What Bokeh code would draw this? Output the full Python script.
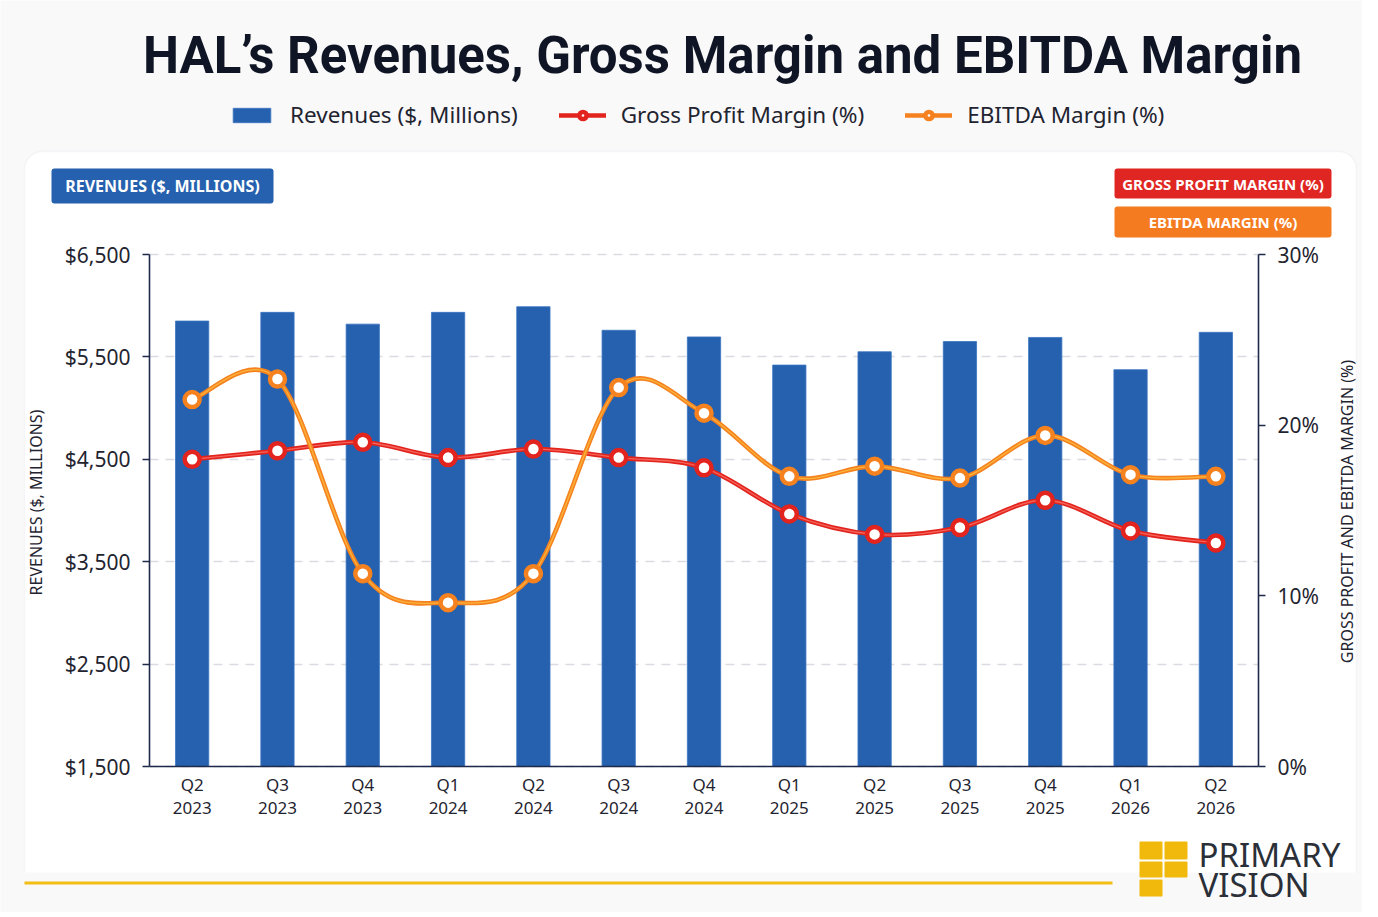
import numpy as np
from bokeh.plotting import figure
from bokeh.models import (Range1d, LinearAxis, FixedTicker, NumeralTickFormatter,
                          PrintfTickFormatter, Label, BoxAnnotation, Legend, LegendItem)
from bokeh.embed import file_html
from bokeh.resources import INLINE

# chart data
quarters = ["Q2\n2023", "Q3\n2023", "Q4\n2023", "Q1\n2024", "Q2\n2024", "Q3\n2024", "Q4\n2024",
            "Q1\n2025", "Q2\n2025", "Q3\n2025", "Q4\n2025", "Q1\n2026", "Q2\n2026"]
revenues = [5850, 5935, 5820, 5935, 5990, 5760, 5695, 5420, 5550, 5650, 5690, 5375, 5740]
gross_margin = [18.0, 18.5, 19.0, 18.1, 18.6, 18.1, 17.5, 14.8, 13.6, 14.0, 15.6, 13.8, 13.1]
ebitda_margin = [21.5, 22.7, 11.3, 9.6, 11.3, 22.2, 20.7, 17.0, 17.6, 16.9, 19.4, 17.1, 17.0]
revenue_ticks = [1500, 2500, 3500, 4500, 5500, 6500]
margin_ticks = [0, 10, 20, 30]

BLUE = "#2561AE"
RED = "#E3231D"
ORANGE = "#F5821F"
NAVY = "#1E2A4A"
TEXT = "#1F2430"
PAGE_BG = "#F9F9FA"
FONT = "Noto Sans"

# canvas size and where the chart area sits on it (pixels from top-left)
W, H = 1362, 912
FL, FR, FT, FB = 149, 1258, 254, 766

xs = list(range(len(quarters)))
x_lo, x_hi = -0.5, len(quarters) - 0.5
rev_lo, rev_hi = revenue_ticks[0], revenue_ticks[-1]
pct_lo, pct_hi = margin_ticks[0], margin_ticks[-1]


def stretch(lo, hi, before, after, span):
    # extend a data range so that [lo, hi] covers `span` pixels with extra pixels on both sides
    k = (hi - lo) / span
    return Range1d(lo - before * k, hi + after * k)


def smooth_segments(vals):
    # catmull-rom curve written as cubic bezier segments
    n = len(vals)
    seg = dict(x0=[], y0=[], x1=[], y1=[], cx0=[], cy0=[], cx1=[], cy1=[])
    for i in range(n - 1):
        a, b = max(i - 1, 0), min(i + 2, n - 1)
        seg["x0"].append(xs[i])
        seg["y0"].append(vals[i])
        seg["x1"].append(xs[i + 1])
        seg["y1"].append(vals[i + 1])
        seg["cx0"].append(xs[i] + (xs[i + 1] - xs[a]) / 6)
        seg["cy0"].append(vals[i] + (vals[i + 1] - vals[a]) / 6)
        seg["cx1"].append(xs[i + 1] - (xs[b] - xs[i]) / 6)
        seg["cy1"].append(vals[i + 1] - (vals[b] - vals[i]) / 6)
    return seg


p = figure(width=W, height=H, output_backend="svg", toolbar_location=None, min_border=0,
           x_range=stretch(x_lo, x_hi, FL, W - FR, FR - FL),
           y_range=stretch(rev_lo, rev_hi, H - FB, FT, FB - FT))
p.extra_y_ranges = {"pct": stretch(pct_lo, pct_hi, H - FB, FT, FB - FT)}
p.outline_line_color = None
p.border_fill_color = PAGE_BG
p.background_fill_color = PAGE_BG


def box(left, right, top, bottom, color, radius=0, line=None, level="annotation"):
    # box given in page pixels
    p.add_layout(BoxAnnotation(left=left, right=right, top=H - top, bottom=H - bottom,
                               left_units="screen", right_units="screen", top_units="screen",
                               bottom_units="screen", fill_color=color, fill_alpha=1,
                               line_color=line, line_width=1.5, border_radius=radius, level=level))


def text(x, y, s, size, color=TEXT, font=FONT, style="normal", align="left", angle=0):
    p.add_layout(Label(x=x, y=H - y, x_units="screen", y_units="screen", text=s,
                       text_font=font, text_font_style=style, text_font_size=size,
                       text_color=color, text_align=align, text_baseline="middle", angle=angle))


# white rounded panel behind the chart
box(24, 1356, 151, H + 60, "#FFFFFF", radius=18, line="#E3E6EA", level="image")
box(0, W, 872, H + 60, PAGE_BG, level="image")

# axes drawn at the edges of the chart area
p.xaxis.fixed_location = rev_lo
p.xaxis.bounds = (x_lo, x_hi)
p.xaxis.ticker = FixedTicker(ticks=xs)
p.xaxis.major_label_overrides = {i: q for i, q in enumerate(quarters)}
p.xaxis.major_tick_line_color = None
p.xaxis.minor_tick_line_color = None
p.xaxis.axis_line_color = NAVY
p.xaxis.axis_line_width = 1.6
p.xaxis.major_label_text_font = FONT
p.xaxis.major_label_text_font_size = "17px"
p.xaxis.major_label_text_color = TEXT
p.xaxis.major_label_text_line_height = 1.0
p.xaxis.major_label_standoff = 0

p.yaxis.fixed_location = x_lo
p.yaxis.bounds = (rev_lo, rev_hi)
p.yaxis.ticker = FixedTicker(ticks=revenue_ticks)
p.yaxis.formatter = NumeralTickFormatter(format="$0,0")
right_axis = LinearAxis(y_range_name="pct", fixed_location=x_hi, bounds=(pct_lo, pct_hi),
                        ticker=FixedTicker(ticks=margin_ticks),
                        formatter=PrintfTickFormatter(format="%d%%"))
p.add_layout(right_axis, "right")

for ax in (p.yaxis[0], right_axis):
    ax.axis_line_color = NAVY
    ax.axis_line_width = 1.6
    ax.major_tick_line_color = NAVY
    ax.major_tick_line_width = 1.6
    ax.major_tick_out = 7
    ax.major_tick_in = 0
    ax.minor_tick_line_color = None
    ax.major_label_text_font = FONT
    ax.major_label_text_font_size = "21px"
    ax.major_label_text_color = TEXT
    ax.major_label_standoff = 12

p.xgrid.grid_line_color = None
p.ygrid.ticker = FixedTicker(ticks=revenue_ticks)
p.ygrid.grid_line_color = "#D9DCE2"
p.ygrid.grid_line_dash = "9 7"
p.ygrid.grid_line_width = 1.3
try:
    p.ygrid.cross_bounds = (x_lo, x_hi)
except AttributeError:
    p.ygrid.grid_line_color = None
    p.segment(x0=[x_lo] * len(revenue_ticks[1:]), x1=[x_hi] * len(revenue_ticks[1:]),
              y0=revenue_ticks[1:], y1=revenue_ticks[1:], line_color="#D9DCE2",
              line_dash="9 7", line_width=1.3, level="underlay")

# revenue bars
bars = p.vbar(x=xs, top=revenues, bottom=rev_lo, width=0.39, fill_color=BLUE, line_color="#3A74C0",
              line_width=0.8)

# margin lines
keys = []
for vals, color, shine in [(gross_margin, RED, "#FF8F80"), (ebitda_margin, ORANGE, "#FFD54F")]:
    seg = smooth_segments(vals)
    curve = p.bezier(line_color=color, line_width=4.6, line_cap="round", y_range_name="pct", **seg)
    p.bezier(line_color=shine, line_width=1.3, line_alpha=0.6, line_cap="round", y_range_name="pct", **seg)
    dots = p.scatter(xs, vals, size=15, marker="circle", fill_color="white", line_color=color,
                     line_width=4.5, y_range_name="pct")
    keys.append([curve, dots])

legend = Legend(items=[LegendItem(label="Revenues ($, Millions)", renderers=[bars]),
                       LegendItem(label="Gross Profit Margin (%)", renderers=keys[0]),
                       LegendItem(label="EBITDA Margin (%)", renderers=keys[1])],
                location=(228, H - 130), orientation="horizontal",
                glyph_width=47, glyph_height=18, label_standoff=15, spacing=41, padding=0, margin=0,
                border_line_color=None, background_fill_alpha=0,
                label_text_font=FONT, label_text_font_size="22.5px", label_text_color=TEXT)
p.add_layout(legend, "center")

# title
text(722, 55, "HAL\u2019s Revenues, Gross Margin and EBITDA Margin", "51px",
     color="#0F1524", font="Roboto", style="bold", align="center")

# badges
for left, right, top, bottom, color, label, size in [
        (51, 273, 168, 203, BLUE, "REVENUES ($, MILLIONS)", "16px"),
        (1114, 1331, 168, 198, "#E02622", "GROSS PROFIT MARGIN (%)", "15px"),
        (1114, 1331, 206, 237, "#F47B20", "EBITDA MARGIN (%)", "15px")]:
    box(left, right, top, bottom, color, radius=3)
    text((left + right) / 2, (top + bottom) / 2, label, size, color="white", style="bold",
         align="center")

# axis titles
text(35, 502, "REVENUES ($, MILLIONS)", "16px", align="center", angle=np.pi / 2)
text(1346, 511, "GROSS PROFIT AND EBITDA MARGIN (%)", "16px", align="center", angle=np.pi / 2)

# footer rule and logo
box(24, 1112, 881, 884, "#F2BE16")
for left, top, right, bottom in [(1139, 841, 1162, 859), (1164, 841, 1187, 859),
                                 (1139, 861, 1162, 877), (1164, 861, 1187, 877),
                                 (1139, 879, 1162, 896)]:
    box(left, right, top, bottom, "#F0B90B", radius=1)
text(1198, 854, "PRIMARY", "33px", color="#2A2F38")
text(1198, 884, "VISION", "33px", color="#2A2F38")

open("out.html", "w").write(file_html(p, INLINE))
